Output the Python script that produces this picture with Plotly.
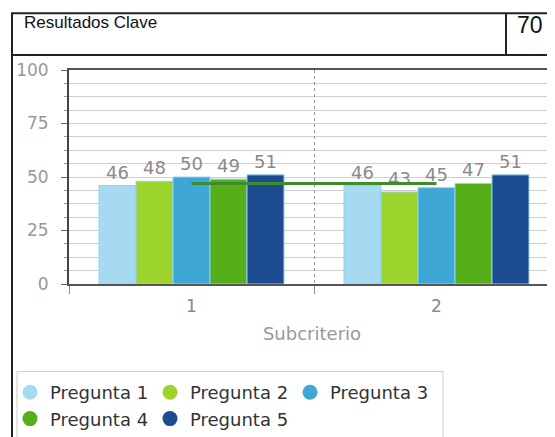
import plotly.graph_objects as go

# ---- data ----
categorias = ["1", "2"]
series = ["Pregunta 1", "Pregunta 2", "Pregunta 3", "Pregunta 4", "Pregunta 5"]
pregunta_1 = [46, 46]
pregunta_2 = [48, 43]
pregunta_3 = [50, 45]
pregunta_4 = [49, 47]
pregunta_5 = [51, 51]
linea_ref = [47, 47]
y_ticks = [0, 25, 50, 75, 100]
titulo = "Resultados Clave"
puntaje = "70"

valores = [pregunta_1, pregunta_2, pregunta_3, pregunta_4, pregunta_5]
colores = ["#a6daf0", "#9dd42c", "#3ea7d6", "#57ae1b", "#1c4b90"]

# ---- layout geometry (target page pixels; page body has an 8px margin) ----
O = 8
W, H = 555 - O, 437 - O
L, R, T, B = 69 - O, 555 - O, 70 - O, 285 - O


def px(x):
    return (x - O - L) / (R - L)


def py(y):
    return (B - (y - O)) / (B - T)


fig = go.Figure()

for nombre, vals, col in zip(series, valores, colores):
    fig.add_trace(go.Bar(
        x=categorias, y=vals, name=nombre,
        marker=dict(color=col, line=dict(color="#8fd3f3", width=1)),
        texttemplate="%{y}", textposition="outside",
        textfont=dict(color="#8a8a8a", size=18, family="DejaVu Sans"),
        cliponaxis=False, showlegend=False,
    ))

fig.add_trace(go.Scatter(
    x=categorias, y=linea_ref, mode="lines",
    line=dict(color="#3f8c2c", width=3), showlegend=False, hoverinfo="skip",
))

# legend entries (circle symbols)
for nombre, col in zip(series, colores):
    fig.add_trace(go.Scatter(
        x=[None], y=[None], mode="markers", name=nombre,
        marker=dict(symbol="circle", size=15, color=col),
    ))

shapes = [
    # header box
    dict(type="rect", xref="paper", yref="paper", x0=px(12), x1=px(580), y0=py(55), y1=py(13),
         line=dict(color="#222", width=2)),
    dict(type="line", xref="paper", yref="paper", x0=px(506), x1=px(506), y0=py(55), y1=py(13),
         line=dict(color="#222", width=2)),
    # left border
    dict(type="line", xref="paper", yref="paper", x0=px(12), x1=px(12), y0=py(55), y1=py(460),
         line=dict(color="#222", width=2)),
    # legend box
    dict(type="rect", xref="paper", yref="paper", x0=px(17), x1=px(443), y0=py(373), y1=py(460),
         line=dict(color="#cccccc", width=1)),
]

annotations = [
    dict(text=titulo, xref="paper", yref="paper", x=px(22), y=py(22), xanchor="left", yanchor="middle",
         showarrow=False, font=dict(family="Liberation Sans", size=17, color="#111")),
    dict(text=puntaje, xref="paper", yref="paper", x=px(515), y=py(25), xanchor="left", yanchor="middle",
         showarrow=False, font=dict(family="Liberation Sans", size=23, color="#111")),
]

fig.update_layout(
    width=W, height=H,
    margin=dict(l=L, r=W - R, t=T, b=H - B, pad=0),
    paper_bgcolor="white", plot_bgcolor="white",
    barmode="group", bargap=0.245, bargroupgap=0,
    font=dict(family="DejaVu Sans", color="#888"),
    shapes=shapes, annotations=annotations,
    legend=dict(
        orientation="h", x=px(10), y=py(376), xanchor="left", yanchor="top",
        font=dict(size=18, color="#333", family="DejaVu Sans"),
        entrywidth=95, entrywidthmode="pixels",
        bgcolor="rgba(0,0,0,0)", borderwidth=0,
    ),
    xaxis=dict(
        type="category", range=[-0.5, -0.5 + (R - L) / 245],
        tickson="boundaries", ticks="outside", ticklen=8, tickcolor="#888",
        showgrid=True, gridcolor="#999", griddash="dot", gridwidth=1,
        showline=True, linecolor="#555", linewidth=2, mirror=True,
        tickfont=dict(size=17, color="#888"), ticklabelstandoff=6,
        title=dict(text="Subcriterio", font=dict(size=18, color="#999"), standoff=12),
    ),
    yaxis=dict(
        range=[0, 100], tickvals=y_ticks, ticks="outside", ticklen=6, tickcolor="#666",
        showgrid=True, gridcolor="#d0d0d0", gridwidth=1,
        minor=dict(dtick=6.25, showgrid=True, gridcolor="#d0d0d0", ticks="outside", ticklen=3, tickcolor="#999"),
        showline=True, linecolor="#444", linewidth=2, zeroline=False,
        tickfont=dict(size=17, color="#999"), ticklabelstandoff=9,
    ),
)

fig.write_html("out.html")
